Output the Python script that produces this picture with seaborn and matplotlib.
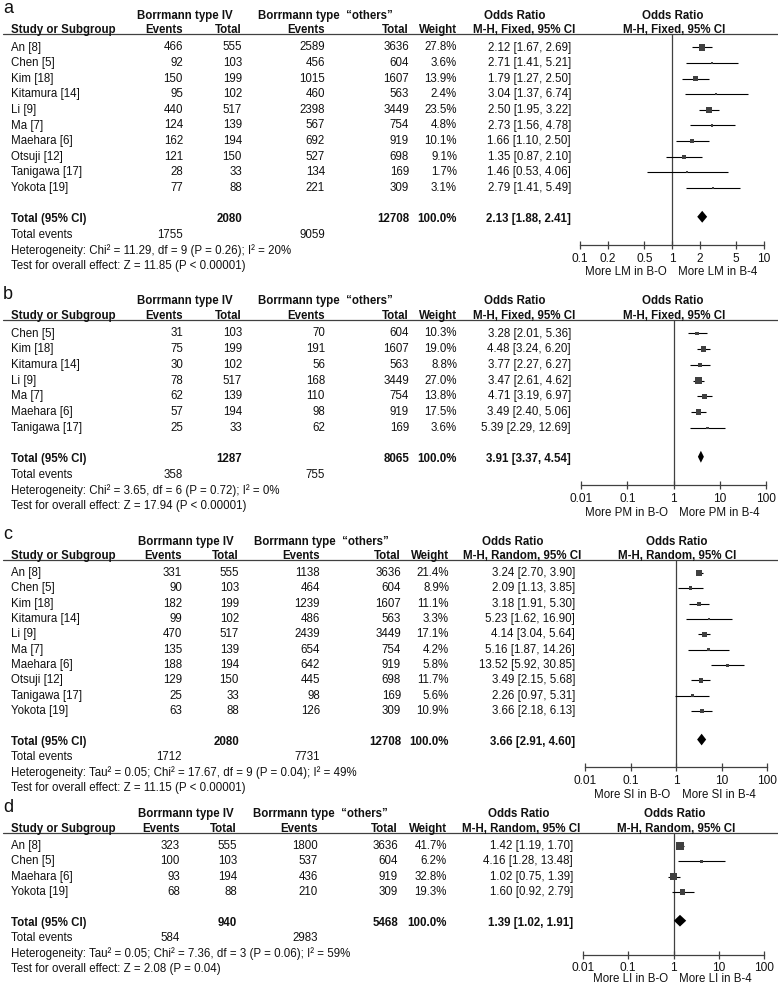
import matplotlib
matplotlib.use('Agg')

import numpy as np
import pandas as pd
import seaborn as sns
import matplotlib.pyplot as plt
from matplotlib import transforms
from matplotlib.lines import Line2D
from matplotlib.ticker import NullLocator

W, H = 778, 988
FS = 8.3
INK = '#111111'
GREY = '#404040'

# ---- a: lymph node metastasis (fixed) ----
a_study = ['An [8]', 'Chen [5]', 'Kim [18]', 'Kitamura [14]', 'Li [9]', 'Ma [7]',
           'Maehara [6]', 'Otsuji [12]', 'Tanigawa [17]', 'Yokota [19]']
a_ev4 = [466, 92, 150, 95, 440, 124, 162, 121, 28, 77]
a_tot4 = [555, 103, 199, 102, 517, 139, 194, 150, 33, 88]
a_evo = [2589, 456, 1015, 460, 2398, 567, 692, 527, 134, 221]
a_toto = [3636, 604, 1607, 563, 3449, 754, 919, 698, 169, 309]
a_weight = [27.8, 3.6, 13.9, 2.4, 23.5, 4.8, 10.1, 9.1, 1.7, 3.1]
a_or = [2.12, 2.71, 1.79, 3.04, 2.50, 2.73, 1.66, 1.35, 1.46, 2.79]
a_lo = [1.67, 1.41, 1.27, 1.37, 1.95, 1.56, 1.10, 0.87, 0.53, 1.41]
a_hi = [2.69, 5.21, 2.50, 6.74, 3.22, 4.78, 2.50, 2.10, 4.06, 5.49]
a_total = [2080, 12708, 2.13, 1.88, 2.41]
a_events = [1755, 9059]
a_het = 'Heterogeneity: Chi\u00b2 = 11.29, df = 9 (P = 0.26); I\u00b2 = 20%'
a_test = 'Test for overall effect: Z = 11.85 (P < 0.00001)'
a_ticks = [0.1, 0.2, 0.5, 1, 2, 5, 10]
a_ticklabels = ['0.1', '0.2', '0.5', '1', '2', '5', '10']
a_favours = ['More LM in B-O', 'More LM in B-4']

# ---- b: peritoneal metastasis (fixed) ----
b_study = ['Chen [5]', 'Kim [18]', 'Kitamura [14]', 'Li [9]', 'Ma [7]', 'Maehara [6]', 'Tanigawa [17]']
b_ev4 = [31, 75, 30, 78, 62, 57, 25]
b_tot4 = [103, 199, 102, 517, 139, 194, 33]
b_evo = [70, 191, 56, 168, 110, 98, 62]
b_toto = [604, 1607, 563, 3449, 754, 919, 169]
b_weight = [10.3, 19.0, 8.8, 27.0, 13.8, 17.5, 3.6]
b_or = [3.28, 4.48, 3.77, 3.47, 4.71, 3.49, 5.39]
b_lo = [2.01, 3.24, 2.27, 2.61, 3.19, 2.40, 2.29]
b_hi = [5.36, 6.20, 6.27, 4.62, 6.97, 5.06, 12.69]
b_total = [1287, 8065, 3.91, 3.37, 4.54]
b_events = [358, 755]
b_het = 'Heterogeneity: Chi\u00b2 = 3.65, df = 6 (P = 0.72); I\u00b2 = 0%'
b_test = 'Test for overall effect: Z = 17.94 (P < 0.00001)'
b_favours = ['More PM in B-O', 'More PM in B-4']

# ---- c: serosal invasion (random) ----
c_study = a_study
c_ev4 = [331, 90, 182, 99, 470, 135, 188, 129, 25, 63]
c_tot4 = [555, 103, 199, 102, 517, 139, 194, 150, 33, 88]
c_evo = [1138, 464, 1239, 486, 2439, 654, 642, 445, 98, 126]
c_toto = [3636, 604, 1607, 563, 3449, 754, 919, 698, 169, 309]
c_weight = [21.4, 8.9, 11.1, 3.3, 17.1, 4.2, 5.8, 11.7, 5.6, 10.9]
c_or = [3.24, 2.09, 3.18, 5.23, 4.14, 5.16, 13.52, 3.49, 2.26, 3.66]
c_lo = [2.70, 1.13, 1.91, 1.62, 3.04, 1.87, 5.92, 2.15, 0.97, 2.18]
c_hi = [3.90, 3.85, 5.30, 16.90, 5.64, 14.26, 30.85, 5.68, 5.31, 6.13]
c_total = [2080, 12708, 3.66, 2.91, 4.60]
c_events = [1712, 7731]
c_het = 'Heterogeneity: Tau\u00b2 = 0.05; Chi\u00b2 = 17.67, df = 9 (P = 0.04); I\u00b2 = 49%'
c_test = 'Test for overall effect: Z = 11.15 (P < 0.00001)'
c_favours = ['More SI in B-O', 'More SI in B-4']

# ---- d: lymphatic invasion (random) ----
d_study = ['An [8]', 'Chen [5]', 'Maehara [6]', 'Yokota [19]']
d_ev4 = [323, 100, 93, 68]
d_tot4 = [555, 103, 194, 88]
d_evo = [1800, 537, 436, 210]
d_toto = [3636, 604, 919, 309]
d_weight = [41.7, 6.2, 32.8, 19.3]
d_or = [1.42, 4.16, 1.02, 1.60]
d_lo = [1.19, 1.28, 0.75, 0.92]
d_hi = [1.70, 13.48, 1.39, 2.79]
d_total = [940, 5468, 1.39, 1.02, 1.91]
d_events = [584, 2983]
d_het = 'Heterogeneity: Tau\u00b2 = 0.05; Chi\u00b2 = 7.36, df = 3 (P = 0.06); I\u00b2 = 59%'
d_test = 'Test for overall effect: Z = 2.08 (P = 0.04)'
d_favours = ['More LI in B-O', 'More LI in B-4']

wide_ticks = [0.01, 0.1, 1, 10, 100]
wide_ticklabels = ['0.01', '0.1', '1', '10', '100']

sns.set_theme(style="white")
plt.rcParams['font.family'] = ['Liberation Sans', 'DejaVu Sans']
plt.rcParams['text.color'] = INK

fig = plt.figure(figsize=(W / 100, H / 100), dpi=100)


def fx(px):
    return px / W


def fy(py):
    return 1 - py / H


def draw_panel(p, g, c):
    n = len(p['study'])
    r0, d = g['r0'], g['d']
    top_i, bot_i = -0.85, g['axis']
    top_px = r0 + top_i * d
    bot_px = r0 + bot_i * d

    ax = fig.add_axes([fx(g['x0']), fy(bot_px), fx(g['x1'] - g['x0']), (bot_px - top_px) / H])
    ax.patch.set_alpha(0)

    df = pd.DataFrame({'odds': p['odds'], 'row': np.arange(n), 'weight': p['weight'],
                       'lo': p['lo'], 'hi': p['hi']})

    ax.hlines(df['row'], df['lo'], df['hi'], color='black', lw=0.8, zorder=2)
    sns.scatterplot(data=df, x='odds', y='row', size='weight', sizes=(0, 40), size_norm=(0, 50),
                    marker='s', color=GREY, linewidth=0, legend=False, ax=ax, zorder=3)

    est, dlo, dhi = p['total'][2], p['total'][3], p['total'][4]
    yc = n + 1 - 0.15
    hh = 0.38
    ax.fill([dlo, est, dhi, est], [yc, yc - hh, yc, yc + hh], color='black', lw=0, zorder=3)

    ax.axvline(1, color=GREY, lw=0.9, zorder=1)

    ax.set_xscale('log')
    ax.set_xlim(p['ticks'][0], p['ticks'][-1])
    ax.set_ylim(bot_i, top_i)
    ax.set_xlabel('')
    ax.set_ylabel('')
    ax.set_yticks([])
    ax.set_xticks(p['ticks'])
    ax.set_xticklabels(p['ticklabels'])
    ax.xaxis.set_minor_locator(NullLocator())
    ax.tick_params(axis='x', bottom=True, direction='inout', length=6, width=0.9, color=GREY,
                   labelsize=FS + 0.3, pad=g['pad'], labelcolor=INK)
    for s in ['top', 'left', 'right']:
        ax.spines[s].set_visible(False)
    ax.spines['bottom'].set_color(GREY)
    ax.spines['bottom'].set_linewidth(0.9)

    fy_more = bot_i + g['more'] / d
    ax.annotate(p['favours'][0], xy=(1, fy_more), xytext=(-4, 0), textcoords='offset points',
                ha='right', va='center', fontsize=FS, annotation_clip=False)
    ax.annotate(p['favours'][1], xy=(1, fy_more), xytext=(4, 0), textcoords='offset points',
                ha='left', va='center', fontsize=FS, annotation_clip=False)

    tt = transforms.blended_transform_factory(fig.transFigure, ax.transData)

    def put(x, y, s, ha='right', bold=False, size=FS):
        ax.text(fx(x), y, s, transform=tt, ha=ha, va='center', fontsize=size,
                fontweight='bold' if bold else 'normal', color=INK)

    # panel letter and headers
    put(3, -2.5, p['tag'], ha='left', size=13)
    put(c['h1a'], -2.05, 'Borrmann type IV', ha='center', bold=True)
    put(c['h1b'], -2.05, 'Borrmann type  \u201cothers\u201d', ha='center', bold=True)
    put(c['h1c'], -2.05, 'Odds Ratio', ha='center', bold=True)
    put(c['h1d'], -2.05, 'Odds Ratio', ha='center', bold=True)
    put(11, -1.12, 'Study or Subgroup', ha='left', bold=True)
    put(c['ev1'], -1.12, 'Events', bold=True)
    put(c['tot1'], -1.12, 'Total', bold=True)
    put(c['ev2'], -1.12, 'Events', bold=True)
    put(c['tot2'], -1.12, 'Total', bold=True)
    put(c['wt'], -1.12, 'Weight', bold=True)
    put(c['h2c'], -1.12, p['method'], ha='center', bold=True)
    put(c['h2d'], -1.12, p['method'], ha='center', bold=True)
    ax.add_artist(Line2D([fx(3), 1], [top_i, top_i], transform=tt, color=GREY, lw=0.9, clip_on=False))

    for i in range(n):
        put(11, i, p['study'][i], ha='left')
        put(c['ev1'], i, str(p['ev4'][i]))
        put(c['tot1'], i, str(p['tot4'][i]))
        put(c['ev2'], i, str(p['evo'][i]))
        put(c['tot2'], i, str(p['toto'][i]))
        put(c['wt'], i, f"{p['weight'][i]:.1f}%")
        put(c['orx'], i, f"{p['odds'][i]:.2f} [{p['lo'][i]:.2f}, {p['hi'][i]:.2f}]")

    t = p['total']
    put(11, n + 1, 'Total (95% CI)', ha='left', bold=True)
    put(c['tot1'], n + 1, str(t[0]), bold=True)
    put(c['tot2'], n + 1, str(t[1]), bold=True)
    put(c['wt'], n + 1, '100.0%', bold=True)
    put(c['orx'], n + 1, f'{t[2]:.2f} [{t[3]:.2f}, {t[4]:.2f}]', bold=True)
    put(11, n + 2, 'Total events', ha='left')
    put(c['ev1'], n + 2, str(p['events'][0]))
    put(c['ev2'], n + 2, str(p['events'][1]))
    put(11, n + 3, p['het'], ha='left')
    put(11, n + 4, p['test'], ha='left')


panels = [
    dict(tag='a', study=a_study, ev4=a_ev4, tot4=a_tot4, evo=a_evo, toto=a_toto, weight=a_weight,
         odds=a_or, lo=a_lo, hi=a_hi, total=a_total, events=a_events, het=a_het, test=a_test,
         ticks=a_ticks, ticklabels=a_ticklabels, favours=a_favours, method='M-H, Fixed, 95% CI'),
    dict(tag='b', study=b_study, ev4=b_ev4, tot4=b_tot4, evo=b_evo, toto=b_toto, weight=b_weight,
         odds=b_or, lo=b_lo, hi=b_hi, total=b_total, events=b_events, het=b_het, test=b_test,
         ticks=wide_ticks, ticklabels=wide_ticklabels, favours=b_favours, method='M-H, Fixed, 95% CI'),
    dict(tag='c', study=c_study, ev4=c_ev4, tot4=c_tot4, evo=c_evo, toto=c_toto, weight=c_weight,
         odds=c_or, lo=c_lo, hi=c_hi, total=c_total, events=c_events, het=c_het, test=c_test,
         ticks=wide_ticks, ticklabels=wide_ticklabels, favours=c_favours, method='M-H, Random, 95% CI'),
    dict(tag='d', study=d_study, ev4=d_ev4, tot4=d_tot4, evo=d_evo, toto=d_toto, weight=d_weight,
         odds=d_or, lo=d_lo, hi=d_hi, total=d_total, events=d_events, het=d_het, test=d_test,
         ticks=wide_ticks, ticklabels=wide_ticklabels, favours=d_favours, method='M-H, Random, 95% CI'),
]

geoms = [
    dict(r0=47.5, d=15.6, axis=12.66, x0=580, x1=764, pad=3, more=27.5),
    dict(r0=333.5, d=15.7, axis=9.65, x0=581, x1=766, pad=3, more=27.5),
    dict(r0=573, d=15.35, axis=12.64, x0=585, x1=767, pad=3, more=27.5),
    dict(r0=846, d=15.4, axis=7.1, x0=583, x1=764, pad=2, more=24),
]

fixed_cols = dict(ev1=183, tot1=242, ev2=325, tot2=409, wt=457, orx=571,
                  h1a=185, h1b=325, h1c=515, h2c=524, h1d=672.5, h2d=674)
cols = [
    fixed_cols,
    fixed_cols,
    dict(ev1=182, tot1=239, ev2=320, tot2=401, wt=449, orx=575,
         h1a=185.5, h1b=321, h1c=513, h2c=522, h1d=676.5, h2d=677.5),
    dict(ev1=180, tot1=237, ev2=318, tot2=398, wt=447, orx=573,
         h1a=185.5, h1b=320, h1c=519, h2c=521, h1d=675, h2d=676),
]

for p, g, c in zip(panels, geoms, cols):
    draw_panel(p, g, c)

fig.savefig('out.png', dpi=100, facecolor='white')
plt.close('all')
